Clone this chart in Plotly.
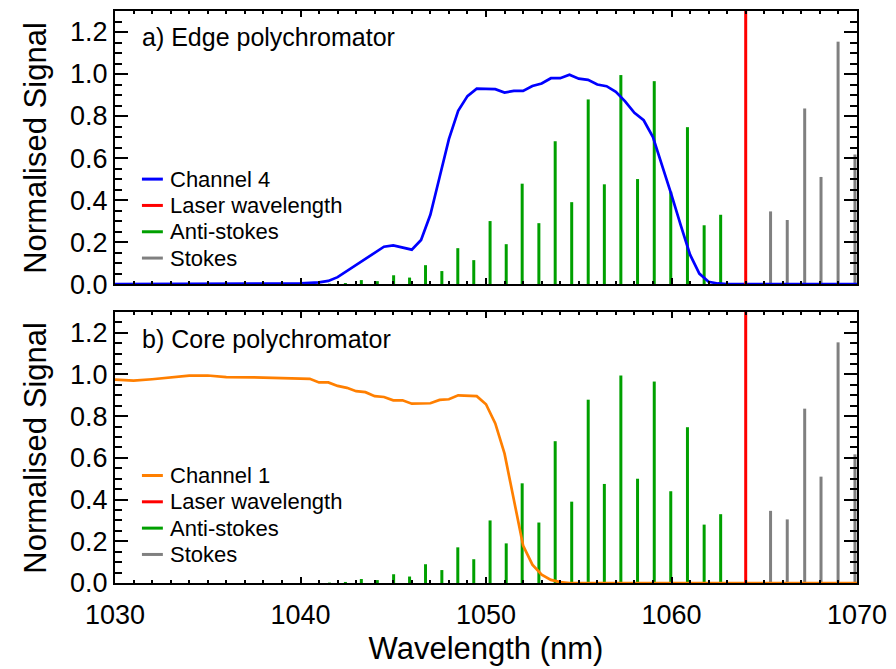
import plotly.graph_objects as go

# ---------------- data ----------------
ch4_wl = [1030.0, 1040.0, 1041.0, 1041.5, 1042.0, 1042.5, 1043.0, 1043.5, 1044.0, 1044.5,
          1045.0, 1045.5, 1046.0, 1046.5, 1047.0, 1047.5, 1048.0, 1048.5, 1049.0, 1049.5,
          1050.0, 1050.5, 1051.0, 1051.5, 1052.0, 1052.5, 1053.0, 1053.5, 1054.0, 1054.5,
          1055.0, 1055.5, 1056.0, 1056.5, 1057.0, 1057.5, 1058.0, 1058.5, 1059.0, 1059.5,
          1060.0, 1060.5, 1061.0, 1061.5, 1062.0, 1062.5, 1063.0, 1070.0]
ch4_sig = [0.0, 0.003, 0.008, 0.015, 0.033, 0.062, 0.09, 0.12, 0.15, 0.178,
           0.184, 0.173, 0.164, 0.21, 0.33, 0.51, 0.69, 0.825, 0.895, 0.93,
           0.93, 0.928, 0.912, 0.92, 0.92, 0.943, 0.955, 0.98, 0.98, 0.997,
           0.978, 0.972, 0.95, 0.942, 0.915, 0.87, 0.815, 0.78, 0.70, 0.565,
           0.425, 0.28, 0.14, 0.05, 0.011, 0.003, 0.0, 0.0]

ch1_wl = [1030.0, 1031.0, 1032.0, 1033.0, 1034.0, 1035.0, 1036.0, 1037.5, 1039.0, 1040.5,
          1041.0, 1041.5, 1042.0, 1042.5, 1043.0, 1043.5, 1044.0, 1044.5, 1045.0, 1045.5,
          1046.0, 1046.5, 1047.0, 1047.5, 1048.0, 1048.5, 1049.0, 1049.5, 1050.0, 1050.5,
          1051.0, 1051.5, 1052.0, 1052.5, 1053.0, 1053.5, 1054.0, 1054.5, 1070.0]
ch1_sig = [0.975, 0.970, 0.977, 0.986, 0.994, 0.995, 0.987, 0.986, 0.983, 0.979,
           0.962, 0.962, 0.945, 0.936, 0.92, 0.915, 0.896, 0.892, 0.876, 0.876,
           0.86, 0.862, 0.862, 0.878, 0.881, 0.90, 0.897, 0.896, 0.857, 0.765,
           0.62, 0.40, 0.18, 0.088, 0.04, 0.015, 0.004, 0.0, 0.0]

laser_wl = 1064.0

antistokes_wl = [1041.56, 1042.42, 1043.28, 1044.14, 1045.02, 1045.88, 1046.74, 1047.62,
                 1048.48, 1049.34, 1050.22, 1051.09, 1051.95, 1052.85, 1053.73, 1054.62,
                 1055.51, 1056.38, 1057.27, 1058.17, 1059.07, 1059.96, 1060.86, 1061.76,
                 1062.65]
antistokes_amp = [0.002, 0.005, 0.019, 0.014, 0.042, 0.031, 0.09, 0.062,
                  0.171, 0.114, 0.30, 0.19, 0.478, 0.29, 0.68, 0.39,
                  0.879, 0.475, 0.995, 0.50, 0.966, 0.44, 0.747, 0.28,
                  0.33]

stokes_wl = [1065.34, 1066.24, 1067.18, 1068.06, 1068.98, 1069.89]
stokes_amp = [0.346, 0.305, 0.836, 0.51, 1.154, 0.617]

x_ticks = [1030, 1040, 1050, 1060, 1070]
y_ticks = [0.0, 0.2, 0.4, 0.6, 0.8, 1.0, 1.2]
X_RANGE = [1030, 1070]
Y_RANGE = [0, 1.3]

panel_labels = ["a) Edge polychromator", "b) Core polychromator"]
channel_names = ["Channel 4", "Channel 1"]
y_title = "Normalised Signal"
x_title = "Wavelength (nm)"

# ---------------- styling ----------------
FONT = "Liberation Sans, Arial, sans-serif"
BLUE = "#0000FF"
ORANGE = "#FF7F00"
RED = "#FF0000"
GREEN = "#00A000"
GREY = "#808080"


def stems(xs, hs):
    sx, sy = [], []
    for x, h in zip(xs, hs):
        sx += [x, x, None]
        sy += [0, h, None]
    return sx, sy


fig = go.Figure()

panels = [
    dict(xa="x2", ya="y2", wl=ch4_wl, sig=ch4_sig, name=channel_names[0], color=BLUE,
         label=panel_labels[0], leg_y=[0.3844, 0.288, 0.1916, 0.0953], lab_y=0.905),
    dict(xa="x", ya="y", wl=ch1_wl, sig=ch1_sig, name=channel_names[1], color=ORANGE,
         label=panel_labels[1], leg_y=[0.3965, 0.2995, 0.2024, 0.1053], lab_y=0.9),
]

annotations = []
shapes = []
for p in panels:
    asx, asy = stems(antistokes_wl, antistokes_amp)
    stx, sty = stems(stokes_wl, stokes_amp)
    fig.add_trace(go.Scatter(x=asx, y=asy, mode="lines", name="Anti-stokes", showlegend=False,
                             line=dict(color=GREEN, width=3), xaxis=p["xa"], yaxis=p["ya"]))
    fig.add_trace(go.Scatter(x=stx, y=sty, mode="lines", name="Stokes", showlegend=False,
                             line=dict(color=GREY, width=3), xaxis=p["xa"], yaxis=p["ya"]))
    fig.add_trace(go.Scatter(x=p["wl"], y=p["sig"], mode="lines", name=p["name"], showlegend=False,
                             line=dict(color=p["color"], width=2.7), xaxis=p["xa"], yaxis=p["ya"]))
    fig.add_trace(go.Scatter(x=[laser_wl, laser_wl], y=Y_RANGE, mode="lines", name="Laser wavelength",
                             showlegend=False, line=dict(color=RED, width=3),
                             xaxis=p["xa"], yaxis=p["ya"]))

    xd, yd = p["xa"] + " domain", p["ya"] + " domain"
    # y-axis title for this panel
    annotations.append(dict(text=y_title, xref="paper", yref=yd, x=-0.1075, y=0.5,
                            xanchor="center", yanchor="middle", textangle=-90, showarrow=False,
                            font=dict(family=FONT, size=31, color="black")))
    # panel label
    annotations.append(dict(text=p["label"], xref=xd, yref=yd, x=0.034, y=p["lab_y"],
                            xanchor="left", yanchor="middle", showarrow=False,
                            font=dict(family=FONT, size=25, color="black")))
    # in-plot key (legend)
    entries = [(p["name"], p["color"]), ("Laser wavelength", RED),
               ("Anti-stokes", GREEN), ("Stokes", GREY)]
    for (txt, col), yy in zip(entries, p["leg_y"]):
        shapes.append(dict(type="line", xref=xd, yref=yd, x0=0.0363, x1=0.0645, y0=yy, y1=yy,
                           line=dict(color=col, width=3), layer="above"))
        annotations.append(dict(text=txt, xref=xd, yref=yd, x=0.071, y=yy,
                                xanchor="left", yanchor="middle", showarrow=False,
                                font=dict(family=FONT, size=22, color="black")))

axis_common = dict(showline=True, linecolor="black", linewidth=2, mirror="allticks",
                   showgrid=False, zeroline=False, ticks="inside", tickcolor="black",
                   tickfont=dict(family=FONT, size=27, color="black"))

xstyle = dict(axis_common, range=X_RANGE, tickvals=x_ticks, ticklen=6, tickwidth=2,
              ticklabelstandoff=7,
              minor=dict(dtick=1, tick0=1030, ticklen=3, tickwidth=1.5, ticks="inside", tickcolor="black"))
ystyle = dict(axis_common, range=Y_RANGE, tickvals=y_ticks, tickformat=".1f", ticklen=13, tickwidth=2,
              minor=dict(dtick=0.05, tick0=0, ticklen=7, tickwidth=1.5, ticks="inside", tickcolor="black"))

top_dom = [301 / 576, 1.0]
bot_dom = [0.0, 273 / 576]

fig.update_layout(
    width=896, height=669,
    margin=dict(l=115, r=37, t=9, b=84),
    paper_bgcolor="white", plot_bgcolor="white",
    font=dict(family=FONT, color="black"),
    showlegend=False,
    xaxis=dict(xstyle, anchor="y", domain=[0, 1],
               title=dict(text=x_title, font=dict(family=FONT, size=31, color="black"), standoff=8)),
    yaxis=dict(ystyle, anchor="x", domain=bot_dom),
    xaxis2=dict(xstyle, anchor="y2", domain=[0, 1], matches="x", showticklabels=False),
    yaxis2=dict(ystyle, anchor="x2", domain=top_dom),
    annotations=annotations,
    shapes=shapes,
)

fig.write_html("out.html")
